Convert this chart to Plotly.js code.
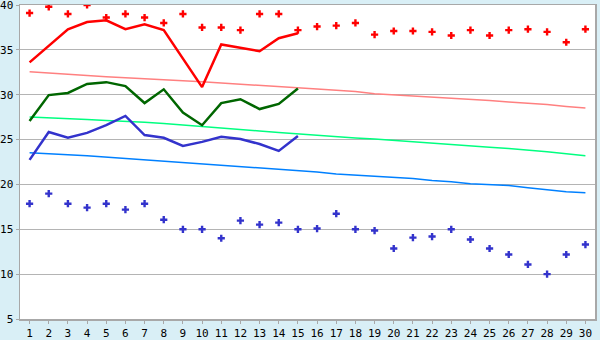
<!DOCTYPE html>
<html>
<head>
<meta charset="utf-8">
<script src="https://cdn.plot.ly/plotly-3.0.1.min.js"></script>
<style>html,body{margin:0;padding:0;background:#d9eff6;}#chart{width:600px;height:340px;}</style>
</head>
<body>
<div id="chart"></div>
<script>
const days = [1,2,3,4,5,6,7,8,9,10,11,12,13,14,15,16,17,18,19,20,21,22,23,24,25,26,27,28,29,30];
const daysPartial = [1,2,3,4,5,6,7,8,9,10,11,12,13,14,15];

const maxPoints = [39.1,39.8,39.0,40.0,38.6,39.0,38.6,38.0,39.0,37.5,37.5,37.2,39.0,39.0,37.2,37.6,37.7,38.0,36.7,37.1,37.1,37.0,36.6,37.2,36.6,37.2,37.3,37.0,35.85,37.3];
const minPoints = [17.85,18.97,17.85,17.41,17.85,17.19,17.85,16.07,15.0,15.0,14.0,15.96,15.52,15.74,15.0,15.08,16.74,15.0,14.86,12.86,14.07,14.19,15.0,13.86,12.86,12.19,11.08,10.0,12.19,13.3];

const redLine = [33.6,35.4,37.3,38.1,38.3,37.3,37.85,37.2,34.0,30.85,35.6,35.2,34.85,36.3,36.85];
const greenLine = [27.07,29.96,30.2,31.2,31.4,30.96,29.07,30.6,28.0,26.6,29.07,29.5,28.4,28.97,30.7];
const blueLine = [22.74,25.85,25.2,25.74,26.6,27.63,25.5,25.2,24.3,24.74,25.3,25.07,24.5,23.74,25.4];

const pinkTrend = [32.56,32.45,32.3,32.15,32.0,31.9,31.8,31.7,31.6,31.45,31.3,31.15,31.0,30.9,30.75,30.63,30.5,30.35,30.1,29.98,29.89,29.75,29.6,29.48,29.35,29.2,29.07,28.9,28.7,28.52];
const greenTrend = [27.52,27.45,27.35,27.25,27.12,27.05,26.92,26.78,26.6,26.42,26.28,26.12,25.96,25.8,25.63,25.48,25.3,25.18,25.07,24.93,24.74,24.6,24.45,24.3,24.15,24.0,23.85,23.65,23.42,23.19];
const blueTrend = [23.52,23.46,23.32,23.2,23.05,22.93,22.8,22.65,22.42,22.3,22.12,21.98,21.85,21.74,21.55,21.38,21.15,21.02,20.9,20.78,20.67,20.44,20.3,20.07,19.96,19.87,19.63,19.41,19.19,19.08];

const xTickLabels = days.map(String);

const traces = [
  {x: days, y: pinkTrend, mode: 'lines', line: {color: '#ff8080', width: 1.5}, hoverinfo: 'skip'},
  {x: days, y: greenTrend, mode: 'lines', line: {color: '#00ff80', width: 1.5}, hoverinfo: 'skip'},
  {x: days, y: blueTrend, mode: 'lines', line: {color: '#0080ff', width: 1.5}, hoverinfo: 'skip'},
  {x: daysPartial, y: redLine, mode: 'lines', line: {color: '#ff0000', width: 2.5}},
  {x: daysPartial, y: greenLine, mode: 'lines', line: {color: '#006600', width: 2.5}},
  {x: daysPartial, y: blueLine, mode: 'lines', line: {color: '#3333cc', width: 2.5}},
  {x: days, y: maxPoints, mode: 'markers', marker: {symbol: 'cross', size: 6, color: '#ff0000', line: {width: 0}}},
  {x: days, y: minPoints, mode: 'markers', marker: {symbol: 'cross', size: 6, color: '#3333cc', line: {width: 0}}}
];

const layout = {
  width: 600, height: 340,
  margin: {l: 20, r: 5, t: 5, b: 21},
  paper_bgcolor: '#d9eff6',
  plot_bgcolor: '#ffffff',
  showlegend: false,
  font: {family: 'DejaVu Sans Mono', size: 11, color: '#000000'},
  xaxis: {
    range: [0.5, 30.5],
    tickvals: days, ticktext: xTickLabels,
    showgrid: false, zeroline: false,
    showline: true, mirror: true, linecolor: '#a8a8a8', linewidth: 1.5,
    ticks: 'outside', ticklen: 3, tickcolor: '#a8a8a8',
    ticklabeloverflow: 'allow',
    tickfont: {family: 'DejaVu Sans Mono', size: 11}
  },
  yaxis: {
    range: [5, 40], dtick: 5, tick0: 5,
    showgrid: true, gridcolor: '#b4b4b4', gridwidth: 1.2, zeroline: false,
    showline: true, mirror: true, linecolor: '#a8a8a8', linewidth: 1.5,
    ticks: 'outside', ticklen: 3, tickcolor: '#a8a8a8',
    ticklabeloverflow: 'allow',
    tickfont: {family: 'DejaVu Sans Mono', size: 11}
  }
};

Plotly.newPlot('chart', traces, layout, {staticPlot: true, displayModeBar: false});
</script>
</body>
</html>
